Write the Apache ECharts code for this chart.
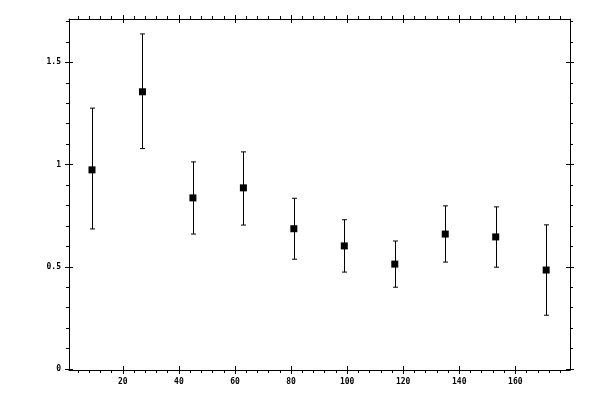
<!DOCTYPE html>
<html>
<head>
<meta charset="utf-8">
<script src="https://cdn.jsdelivr.net/npm/echarts@6/dist/echarts.min.js"></script>
<style>
  html, body { margin: 0; padding: 0; background: #fff; }
  #chart { width: 600px; height: 400px; }
</style>
</head>
<body>
<div id="chart"></div>
<script>
// bin centres and measured values
var xVals = [9, 27, 45, 63, 81, 99, 117, 135, 153, 171];
var yVals = [0.974, 1.356, 0.837, 0.886, 0.686, 0.602, 0.513, 0.660, 0.646, 0.484];
var yLow  = [0.685, 1.078, 0.660, 0.704, 0.537, 0.474, 0.400, 0.523, 0.498, 0.263];
var yHigh = [1.276, 1.639, 1.013, 1.062, 0.835, 0.730, 0.626, 0.798, 0.793, 0.705];

// ticks
var xMajor = [20, 40, 60, 80, 100, 120, 140, 160];
var xMinor = [4, 8, 12, 16, 24, 28, 32, 36, 44, 48, 52, 56, 64, 68, 72, 76, 84, 88, 92, 96,
              104, 108, 112, 116, 124, 128, 132, 136, 144, 148, 152, 156, 164, 168, 172, 176];
var yMajor = [0, 0.5, 1, 1.5];
var yMinor = [0.1, 0.2, 0.3, 0.4, 0.6, 0.7, 0.8, 0.9, 1.1, 1.2, 1.3, 1.4, 1.6, 1.7];

var X_MIN = 0.8, X_MAX = 179.5;
var Y_MIN = -0.005, Y_MAX = 1.712;

var black = '#000';
var labelFont = { fontSize: 8, fontFamily: 'DejaVu Sans Mono', fontWeight: 'bold', color: black, margin: 8 };

function makeAxis(type, pos, ticks, inside, len, showLine, labels) {
  var ax = {
    type: 'value',
    position: pos,
    min: type === 'x' ? X_MIN : Y_MIN,
    max: type === 'x' ? X_MAX : Y_MAX,
    splitLine: { show: false },
    axisLine: { show: showLine, onZero: false, lineStyle: { color: black, width: 1 } },
    axisTick: { show: true, inside: inside, length: len, customValues: ticks,
                lineStyle: { color: black, width: 1 } },
    axisLabel: { show: false }
  };
  if (labels) {
    ax.axisLabel = Object.assign({ show: true, customValues: labels }, labelFont);
  }
  return ax;
}

var xAxes = [
  makeAxis('x', 'bottom', xMajor, false, 4, true, xMajor),
  makeAxis('x', 'bottom', xMajor, true, 4, false),
  makeAxis('x', 'bottom', xMinor, false, 3, false),
  makeAxis('x', 'top', xMajor, false, 4, true),
  makeAxis('x', 'top', xMajor, true, 4, false),
  makeAxis('x', 'top', xMinor, false, 3, false)
];
var yAxes = [
  makeAxis('y', 'left', yMajor, false, 4, true, yMajor),
  makeAxis('y', 'left', yMajor, true, 4, false),
  makeAxis('y', 'left', yMinor, false, 3, false),
  makeAxis('y', 'right', yMajor, false, 4, true),
  makeAxis('y', 'right', yMajor, true, 4, false),
  makeAxis('y', 'right', yMinor, false, 3, false)
];

var errData = xVals.map(function (x, i) { return [x, yLow[i], yHigh[i]]; });
var ptData = xVals.map(function (x, i) { return [x, yVals[i]]; });

var chart = echarts.init(document.getElementById('chart'), null, { renderer: 'canvas' });
chart.setOption({
  animation: false,
  backgroundColor: '#fff',
  grid: { left: 69, right: 30, top: 19, bottom: 30, containLabel: false },
  xAxis: xAxes,
  yAxis: yAxes,
  series: [
    {
      type: 'custom',
      xAxisIndex: 0,
      yAxisIndex: 0,
      data: errData,
      renderItem: function (params, api) {
        var lo = api.coord([api.value(0), api.value(1)]);
        var hi = api.coord([api.value(0), api.value(2)]);
        var x = Math.round(lo[0]) + 0.5;
        var style = { stroke: black, lineWidth: 1 };
        return {
          type: 'group',
          children: [
            { type: 'line', shape: { x1: x, y1: hi[1], x2: x, y2: lo[1] }, style: style },
            { type: 'line', shape: { x1: x - 2.5, y1: hi[1], x2: x + 2.5, y2: hi[1] }, style: style },
            { type: 'line', shape: { x1: x - 2.5, y1: lo[1], x2: x + 2.5, y2: lo[1] }, style: style }
          ]
        };
      },
      z: 2
    },
    {
      type: 'scatter',
      xAxisIndex: 0,
      yAxisIndex: 0,
      symbol: 'rect',
      symbolSize: 7,
      itemStyle: { color: black, opacity: 1 },
      data: ptData,
      z: 3
    }
  ]
});
</script>
</body>
</html>
